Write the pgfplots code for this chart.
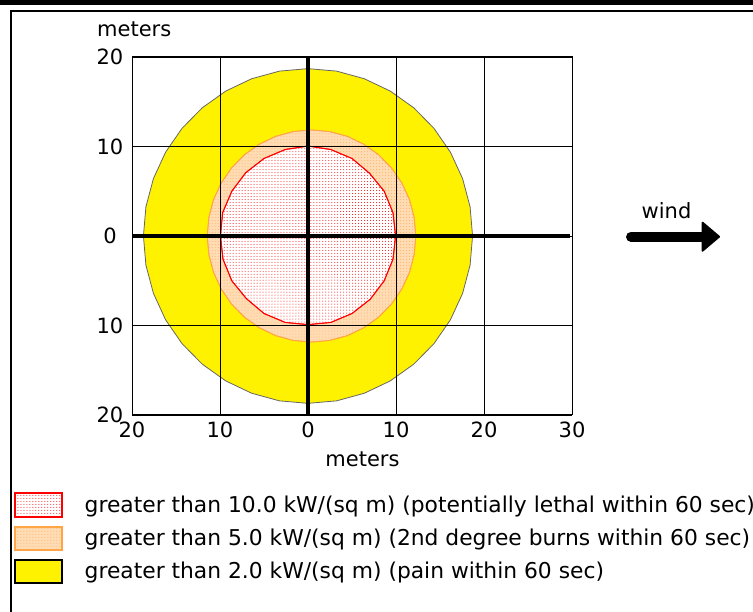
\documentclass[border=0pt]{standalone}
\usepackage{fontspec}
\setmainfont{DejaVu Sans}
\usepackage{pgfplots}
\pgfplotsset{compat=1.18}
\usetikzlibrary{patterns,arrows.meta}
\definecolor{peach}{RGB}{255,220,180}
\definecolor{peachdot}{RGB}{255,175,100}
\definecolor{ringline}{RGB}{255,165,70}
\definecolor{zonered}{RGB}{255,0,0}
\newcommand{\bigfont}{\fontsize{21bp}{25bp}\selectfont}
\newcommand{\legfont}{\fontsize{21.8bp}{25bp}\selectfont}
\begin{document}
\begin{tikzpicture}[x=1bp,y=1bp]
\useasboundingbox (0,0) rectangle (753,612);
\clip (0,0) rectangle (753,612);
% page frame
\draw[line width=4.7bp] (0,609.7) -- (753,609.7);
\draw[line width=2bp] (11,0) -- (11,601) -- (753,601);
\begin{axis}[
  at={(132bp,197bp)}, anchor=south west,
  scale only axis, width=440bp, height=358bp,
  xmin=-20, xmax=30, ymin=-20, ymax=20,
  xtick={-20,-10,0,10,20,30}, ytick={-20,-10,0,10,20},
  xticklabels={20,10,0,10,20,30},
  yticklabels={20,10,0,10,20},
  major tick length=0pt,
  grid=major,
  major grid style={black, line width=0.9bp},
  axis line style={black, line width=1bp},
  axis on top,
  /pgf/number format/assume math mode=true,
  tick label style={font=\bigfont},
  yticklabel style={anchor=center, xshift=-22bp},
  xticklabel style={anchor=north, yshift=-3bp},
]
% pain zone (yellow)
\addplot[draw=black!60, line width=0.8bp, fill=yellow] coordinates {
(18.70,0) (18.42,3.25) (17.57,6.40) (16.19,9.35) (14.32,12.02) (12.02,14.32) (9.35,16.19) (6.40,17.57) (3.25,18.42) (0,18.70) (-3.25,18.42) (-6.40,17.57) (-9.35,16.19) (-12.02,14.32) (-14.32,12.02) (-16.19,9.35) (-17.57,6.40) (-18.42,3.25) (-18.70,0) (-18.42,-3.25) (-17.57,-6.40) (-16.19,-9.35) (-14.32,-12.02) (-12.02,-14.32) (-9.35,-16.19) (-6.40,-17.57) (-3.25,-18.42) (0,-18.70) (3.25,-18.42) (6.40,-17.57) (9.35,-16.19) (12.02,-14.32) (14.32,-12.02) (16.19,-9.35) (17.57,-6.40) (18.42,-3.25)
} --cycle;
% 2nd degree burns zone (orange)
\addplot[draw=ringline, line width=0.8bp, fill=peach, postaction={pattern=dots, pattern color=peachdot}] coordinates {
(12.25,0) (12.07,2.06) (11.54,4.05) (10.66,5.93) (9.48,7.62) (8.02,9.08) (6.33,10.26) (4.45,11.14) (2.46,11.67) (0.40,11.85) (-1.66,11.67) (-3.65,11.14) (-5.53,10.26) (-7.22,9.08) (-8.68,7.62) (-9.86,5.93) (-10.74,4.05) (-11.27,2.06) (-11.45,0) (-11.27,-2.06) (-10.74,-4.05) (-9.86,-5.93) (-8.68,-7.62) (-7.22,-9.08) (-5.53,-10.26) (-3.65,-11.14) (-1.66,-11.67) (0.40,-11.85) (2.46,-11.67) (4.45,-11.14) (6.33,-10.26) (8.02,-9.08) (9.48,-7.62) (10.66,-5.93) (11.54,-4.05) (12.07,-2.06)
} --cycle;
% potentially lethal zone (red)
\addplot[draw=zonered, line width=0.9bp, fill=white, postaction={pattern=dots, pattern color=red}] coordinates {
(9.95,0) (9.66,2.59) (8.66,5.0) (7.0,7.0) (5.0,8.66) (2.59,9.66) (0,10.05) (-2.59,9.66) (-5.0,8.66) (-7.07,7.07) (-8.66,5.0) (-9.7,2.6) (-9.95,0) (-9.66,-2.59) (-8.66,-5.0) (-7.0,-7.0) (-5.0,-8.66) (-2.59,-9.66) (0,-9.9) (2.59,-9.66) (5.0,-8.66) (7.07,-7.07) (8.66,-5.0) (9.66,-2.59)
} --cycle;
% thick axes through the source
\addplot[black, line width=4bp] coordinates {(-20,0) (29.8,0)};
\addplot[black, line width=4bp] coordinates {(0,20) (0,-20)};
\end{axis}
% axis titles
\node[anchor=base west, inner sep=0pt, font=\bigfont] at (97,575.3) {meters};
\node[anchor=base, inner sep=0pt, font=\bigfont] at (362.5,145) {meters};
% wind arrow
\node[anchor=base west, inner sep=0pt, font=\bigfont] at (641.5,393.7) {wind};
\draw[line width=10bp, line cap=round] (631,375.3) -- (706,375.3);
\fill[line join=round, draw=black, line width=2bp] (702.5,389.3) -- (719,375.3) -- (702.5,361.3) -- cycle;
% legend
\draw[draw=zonered, line width=2bp, fill=white, postaction={pattern=dots, pattern color=red}] (14.5,94.5) rectangle (61.5,118.5);
\draw[draw=ringline, line width=2bp, fill=peach, postaction={pattern=dots, pattern color=peachdot}] (14.5,61.5) rectangle (61.5,85);
\draw[draw=black, line width=2bp, fill=yellow] (14.5,28.5) rectangle (61.5,51.5);
\node[anchor=base west, inner sep=0pt, font=\legfont] at (84.5,99.5) {greater than 10.0 kW/(sq m) (potentially lethal within 60 sec)};
\node[anchor=base west, inner sep=0pt, font=\legfont] at (84.5,66) {greater than 5.0 kW/(sq m) (2nd degree burns within 60 sec)};
\node[anchor=base west, inner sep=0pt, font=\legfont] at (84.5,33) {greater than 2.0 kW/(sq m) (pain within 60 sec)};
\end{tikzpicture}
\end{document}
